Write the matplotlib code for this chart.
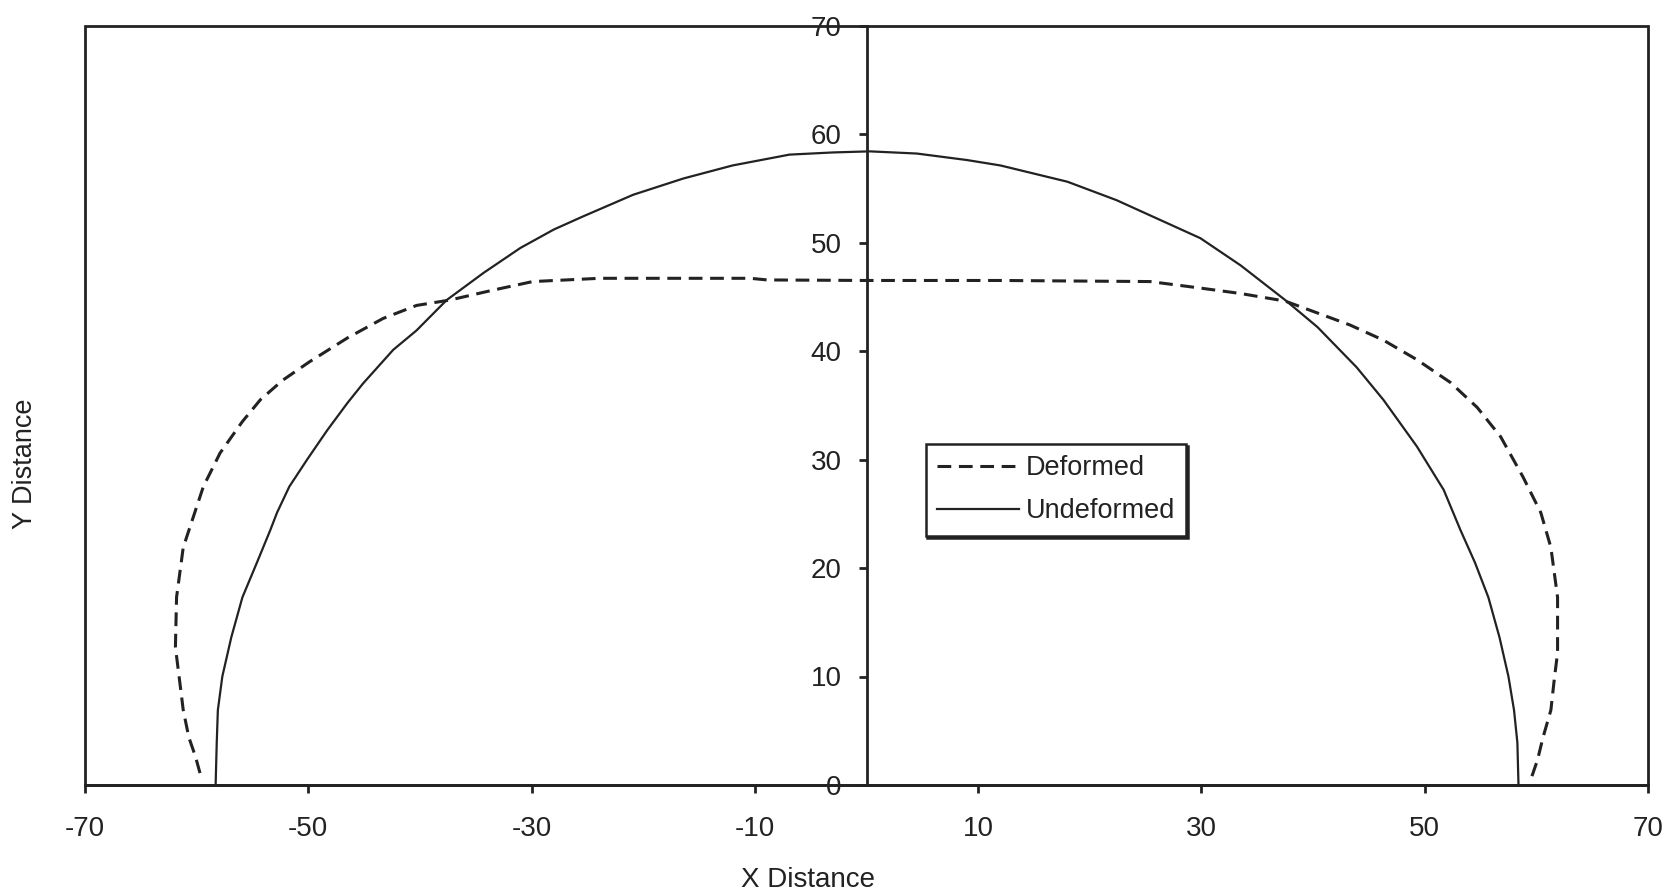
import matplotlib.pyplot as plt
from matplotlib.patches import Rectangle

# Cross-section profiles (x, y in same distance units), ordered left to right
undeformed_x = [-58.3, -58.2, -58.1, -57.7, -56.9, -55.9, -54.6, -53.4, -52.8, -51.7,
                -50.1, -48.3, -46.5, -45.1, -42.4, -40.3, -37.6, -34.3, -31.0, -28.0,
                -25.4, -20.9, -16.4, -12.0, -6.9, -3.0, 0.3, 4.5, 9.0, 12.0,
                18.0, 22.4, 26.9, 29.9, 33.5, 37.5, 40.4, 43.9, 46.3, 49.3,
                51.7, 53.2, 54.5, 55.7, 56.7, 57.5, 58.0, 58.3, 58.4]
undeformed_y = [0.0, 3.9, 6.9, 10.0, 13.6, 17.3, 20.5, 23.5, 25.1, 27.5,
                30.0, 32.7, 35.2, 37.0, 40.1, 41.9, 44.7, 47.2, 49.5, 51.2,
                52.4, 54.4, 55.9, 57.1, 58.1, 58.3, 58.4, 58.2, 57.6, 57.1,
                55.6, 53.9, 51.8, 50.4, 47.9, 44.7, 42.2, 38.5, 35.5, 31.2,
                27.2, 23.5, 20.5, 17.3, 13.6, 10.0, 6.9, 3.9, 0.0]

deformed_x = [-59.7, -60.1, -60.7, -61.2, -61.5, -61.9, -61.8, -61.2, -60.3, -59.4,
              -57.9, -55.9, -54.3, -52.3, -49.9, -46.5, -43.3, -40.3, -37.3, -33.5,
              -29.9, -23.9, -19.4, -10.4, -8.9, 0.0, 12.0, 25.4, 29.9, 33.5,
              37.5, 40.4, 43.3, 46.3, 49.3, 52.3, 54.7, 56.8, 58.8, 60.4,
              61.3, 61.9, 61.9, 61.6, 61.3, 60.6, 60.1, 59.4]
deformed_y = [1.1, 2.6, 4.4, 6.9, 9.4, 12.7, 17.3, 21.9, 24.7, 27.5,
              30.6, 33.5, 35.5, 37.3, 39.0, 41.2, 43.0, 44.2, 44.7, 45.6,
              46.4, 46.7, 46.7, 46.7, 46.55, 46.5, 46.5, 46.4, 45.8, 45.3,
              44.6, 43.5, 42.4, 41.0, 39.2, 37.1, 34.8, 32.1, 28.4, 25.1,
              21.9, 17.3, 12.2, 9.7, 6.9, 4.4, 2.3, 0.2]

x_ticks = list(range(-70, 71, 20))
y_ticks = list(range(0, 71, 10))

plt.rcParams["font.family"] = ["Liberation Sans", "DejaVu Sans"]
plt.rcParams["axes.unicode_minus"] = False
ink = "#222222"

W, H = 1667, 894
fig = plt.figure(figsize=(W / 100, H / 100), dpi=100)
ax = fig.add_axes([85 / W, 1 - 785 / H, (1648 - 85) / W, (785 - 25.5) / H])

ax.plot(deformed_x, deformed_y, color=ink, lw=2.2, ls=(0, (4.5, 2.5)), label="Deformed")
ax.plot(undeformed_x, undeformed_y, color=ink, lw=1.6, label="Undeformed")

ax.set_xlim(-70, 70)
ax.set_ylim(0, 70)
ax.set_xticks(x_ticks)
ax.set_yticks(y_ticks)

# y axis runs through x = 0, the outer box is drawn separately
ax.spines["left"].set_position(("data", 0))
ax.spines["top"].set_visible(False)
ax.spines["right"].set_visible(False)
for s in ("left", "bottom"):
    ax.spines[s].set_linewidth(2)
    ax.spines[s].set_color(ink)
ax.add_patch(Rectangle((0, 0), 1, 1, transform=ax.transAxes, fill=False,
                       lw=2, edgecolor=ink, clip_on=False, zorder=3))

ax.tick_params(axis="x", direction="out", length=6, width=2, pad=16,
               labelsize=20, colors=ink)
ax.tick_params(axis="y", direction="out", length=6, width=2, pad=12,
               labelsize=20, colors=ink)

fig.text(808 / W, 1 - 880 / H, "X Distance", ha="center", va="center",
         fontsize=20, color=ink)
fig.text(25 / W, 1 - 464 / H, "Y Distance", ha="center", va="center",
         rotation=90, fontsize=19.5, color=ink)

leg = ax.legend(loc="upper left", bbox_to_anchor=(926 / W, 1 - 444 / H),
                bbox_transform=fig.transFigure, fancybox=False, frameon=True,
                fontsize=19.5, handlelength=3.0, handletextpad=0.25,
                borderpad=0.42, labelspacing=0.62, borderaxespad=0,
                shadow={"ox": 1, "oy": -1.5, "color": ink, "alpha": 1})
leg.get_frame().set_edgecolor(ink)
leg.get_frame().set_linewidth(1.8)
for t in leg.get_texts():
    t.set_color(ink)

fig.savefig("out.png", dpi=100)
